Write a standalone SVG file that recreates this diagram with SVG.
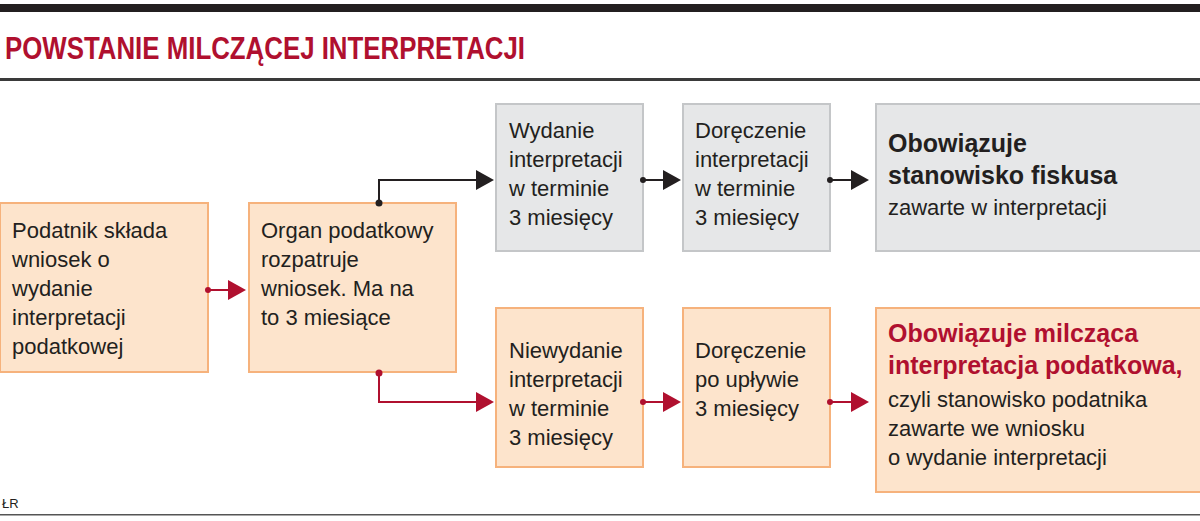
<svg xmlns="http://www.w3.org/2000/svg" width="1200" height="521" viewBox="0 0 1200 521">
<style>
text{font-family:"Liberation Sans",Arial,sans-serif;font-size:22px;fill:#231f20}
.o{fill:#fde4cc;stroke:#f6b27c;stroke-width:2}
.g{fill:#e6e7e8;stroke:#c4c6c8;stroke-width:2}
.b{font-weight:bold;font-size:25px}
.r{fill:#b0102f}
.lk{fill:none;stroke:#231f20;stroke-width:2}
.lr{fill:none;stroke:#b0102f;stroke-width:2}
</style>
<rect x="0" y="4" width="1200" height="8" fill="#231f20"/>
<text x="5" y="59" class="r" style="font-weight:bold;font-size:32px" textLength="520" lengthAdjust="spacingAndGlyphs">POWSTANIE MILCZĄCEJ INTERPRETACJI</text>
<rect x="0" y="78" width="1200" height="3" fill="#3a3a3a"/>
<g id="n1"><rect class="o" x="0" y="203" width="208" height="169"/>
<text x="12" y="238">Podatnik składa</text><text x="12" y="267">wniosek o</text><text x="12" y="296">wydanie</text><text x="12" y="325">interpretacji</text><text x="12" y="354">podatkowej</text></g>
<g id="n2"><rect class="o" x="249" y="203" width="207" height="169"/>
<text x="261" y="238">Organ podatkowy</text><text x="261" y="267">rozpatruje</text><text x="261" y="296">wniosek. Ma na</text><text x="261" y="325">to 3 miesiące</text></g>
<g id="n3"><rect class="g" x="496" y="104" width="147" height="147"/>
<text x="509" y="138">Wydanie</text><text x="509" y="167">interpretacji</text><text x="509" y="196">w terminie</text><text x="509" y="225">3 miesięcy</text></g>
<g id="n4"><rect class="g" x="683" y="104" width="147" height="147"/>
<text x="695" y="138">Doręczenie</text><text x="695" y="167">interpretacji</text><text x="695" y="196">w terminie</text><text x="695" y="225">3 miesięcy</text></g>
<g id="n5"><rect class="g" x="876" y="104" width="330" height="147"/>
<text x="888" y="152" class="b">Obowiązuje</text><text x="888" y="184" class="b">stanowisko fiskusa</text><text x="888" y="215">zawarte w interpretacji</text></g>
<g id="n6"><rect class="o" x="496" y="308" width="147" height="159"/>
<text x="509" y="358">Niewydanie</text><text x="509" y="387">interpretacji</text><text x="509" y="416">w terminie</text><text x="509" y="445">3 miesięcy</text></g>
<g id="n7"><rect class="o" x="683" y="308" width="147" height="159"/>
<text x="695" y="358">Doręczenie</text><text x="695" y="387">po upływie</text><text x="695" y="416">3 miesięcy</text></g>
<g id="n8"><rect class="o" x="876" y="308" width="330" height="184"/>
<text x="888" y="342" class="b r">Obowiązuje milcząca</text><text x="888" y="374" class="b r">interpretacja podatkowa,</text>
<text x="888" y="407">czyli stanowisko podatnika</text><text x="888" y="436">zawarte we wniosku</text><text x="888" y="465">o wydanie interpretacji</text></g>
<rect x="0" y="514" width="1200" height="1.5" fill="#555"/>
<text x="2" y="508" style="font-size:13px">ŁR</text>
<g id="connectors">
<g fill="#b0102f"><circle cx="208" cy="290" r="3"/><path d="M228,280L246,290L228,300z"/>
<circle cx="379" cy="373" r="3.5"/><path d="M476,392L494,402L476,412z"/>
<circle cx="643" cy="402" r="3"/><path d="M663,392L681,402L663,412z"/>
<circle cx="830" cy="402" r="3"/><path d="M851,392L869,402L851,412z"/></g>
<path class="lr" d="M208,290H230M379,373V402H478M643,402H665M830,402H853"/>
<g fill="#231f20"><circle cx="379" cy="203" r="3.5"/><path d="M476,170L494,180L476,190z"/>
<circle cx="643" cy="180" r="3"/><path d="M663,170L681,180L663,190z"/>
<circle cx="830" cy="180" r="3"/><path d="M851,170L869,180L851,190z"/></g>
<path class="lk" d="M379,203V180H478M643,180H665M830,180H853"/>
</g>
</svg>
